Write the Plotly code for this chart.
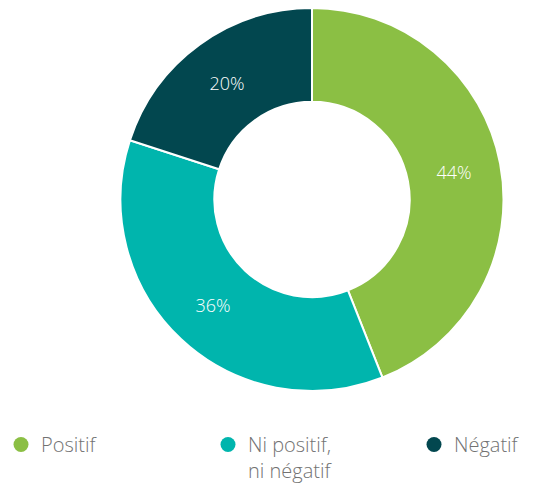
import plotly.graph_objects as go

labels = ["Positif", "Ni positif,<br>ni négatif", "Négatif"]
values = [44, 36, 20]
colors = ["#8BBF44", "#00B5AD", "#02474F"]

W, H = 535, 486
CX, CY, R = 304, 191.5, 191.5  # figure pixels (page body adds an 8px offset)
fig = go.Figure()
fig.add_trace(go.Pie(
    labels=labels, values=values, sort=False, direction="clockwise", rotation=0,
    hole=0.51,
    marker=dict(colors=colors, line=dict(color="white", width=2)),
    texttemplate="%{value}%", textposition="inside", insidetextorientation="horizontal",
    textfont=dict(color="white", size=18, family="Open Sans", weight=300),
    showlegend=False, hoverinfo="label+percent",
    domain=dict(x=[(CX - R) / W, (CX + R) / W], y=[1 - (CY + R) / H, 1 - (CY - R) / H]),
))
legend_ids = ["legend", "legend2", "legend3"]
legend_x_px = [-7, 200, 406]
for lab, col, lid in zip(labels, colors, legend_ids):
    fig.add_trace(go.Scatter(
        x=[None], y=[None], mode="markers", name=lab, legend=lid,
        marker=dict(symbol="circle", size=15, color=col), showlegend=True,
    ))

legend_common = dict(
    orientation="h", xanchor="left", y=1 - 417 / H, yanchor="top",
    valign="top", bgcolor="rgba(0,0,0,0)",
    font=dict(family="Open Sans", size=20, color="#727272", weight=300),
    itemclick=False, itemdoubleclick=False,
)
layout_legends = {lid: dict(x=px / W, **legend_common) for lid, px in zip(legend_ids, legend_x_px)}

fig.update_layout(
    width=W, height=H, autosize=False,
    margin=dict(l=0, r=0, t=0, b=0, autoexpand=False),
    paper_bgcolor="white", plot_bgcolor="white",
    xaxis=dict(visible=False), yaxis=dict(visible=False),
    **layout_legends,
)
fig.write_html("out.html")
